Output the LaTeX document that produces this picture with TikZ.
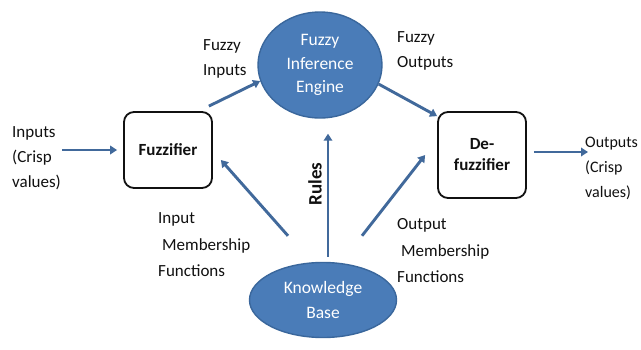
\documentclass[tikz,border=0pt]{standalone}
\usepackage{fontspec}
\setmainfont{Carlito}
\usepackage{xcolor}
\usepackage{tikz}
\usetikzlibrary{arrows.meta,positioning,calc,shapes.geometric}
\definecolor{fzBlue}{HTML}{4A7CB8}
\definecolor{fzBorder}{HTML}{3A679C}
\definecolor{fzArrow}{HTML}{41699B}
\definecolor{fzInk}{HTML}{111111}
\tikzset{
  % Rounded process box (white, black border)
  procbox/.style={rectangle,rounded corners=10pt,
    draw=fzInk,line width=1.8pt,fill=white,
    align=center,inner sep=0pt,
    font=\fontsize{17}{20}\selectfont\bfseries,text=fzInk},
  % Blue ellipse (engine / knowledge base)
  blueell/.style={ellipse,draw=fzBorder,line width=1.4pt,
    fill=fzBlue,align=center,inner sep=0pt,
    font=\fontsize{17.5}{23.5}\selectfont,text=white},
  % Plain text label
  lbl/.style={inner sep=0pt,align=left,anchor=west,
    font=\fontsize{17}{25}\selectfont,text=fzInk},
  % Arrows
  arr/.style={-{Triangle[length=7pt,width=8.5pt]},
    line width=2.9pt,color=fzArrow},
}
\begin{document}
\begin{tikzpicture}[x=1pt,y=-1pt]
  \useasboundingbox[fill=white] (0,0) rectangle (641,349);

  % Blocks
  \node[procbox,minimum width=88pt,minimum height=76pt] (fuzz) at (168,150) {Fuzzifier};
  \node[procbox,minimum width=88pt,minimum height=86pt,
    font=\fontsize{17}{21}\selectfont\bfseries] (defuzz) at (482,155) {De-\\fuzzifier};
  \node[blueell,minimum width=124pt,minimum height=106pt] (fie) at (320,65)
    {Fuzzy\\Inference\\Engine};
  \node[blueell,minimum width=147pt,minimum height=75pt,
    font=\fontsize{17.5}{25}\selectfont] (kb) at (323,300) {Knowledge\\Base};

  % Labels
  \node[lbl] (inlbl) at (12,158) {Inputs\\(Crisp\\values)};
  \node[lbl,font=\fontsize{16}{25}\selectfont] (outlbl) at (585,168) {Outputs\\(Crisp\\values)};
  \node[lbl] (fzinlbl) at (203,59) {Fuzzy\\Inputs};
  \node[lbl] (fzoutlbl) at (397,51) {Fuzzy\\Outputs};
  \node[lbl,font=\fontsize{17}{26.5}\selectfont] (inmf) at (158,245)
    {Input\\\hspace*{4pt}Membership\\Functions};
  \node[lbl,font=\fontsize{17}{26.5}\selectfont] (outmf) at (397,251)
    {Output\\\hspace*{4pt}Membership\\Functions};
  \node[rotate=90,inner sep=0pt,font=\fontsize{19}{22}\selectfont\bfseries,
    text=fzInk] (ruleslbl) at (315,184) {Rules};

  % Main flow
  \draw[arr] ($(inlbl.east |- fuzz.west)+(1,0)$) -- ($(fuzz.west)+(-6,0)$);
  \draw[arr] ($(fuzz.north east)+(-4,-5)$) -- (fie.195);
  \draw[arr] (fie.-18) -- ($(defuzz.north west)+(0,5)$);
  \draw[arr] ($(defuzz.east)+(7,-3)$) -- ($(outlbl.west)+(3,-16)$);

  % From the knowledge base
  \draw[arr] ($(kb.north)+(-35,-26)$) -- ($(fuzz.east)+(8,10)$);
  \draw[arr] ($(kb.north)+(5,-5)$) -- ($(fie.south)+(8,15)$);
  \draw[arr] ($(kb.north)+(39,-26)$) -- ($(defuzz.west)+(-12,0)$);
\end{tikzpicture}
\end{document}
